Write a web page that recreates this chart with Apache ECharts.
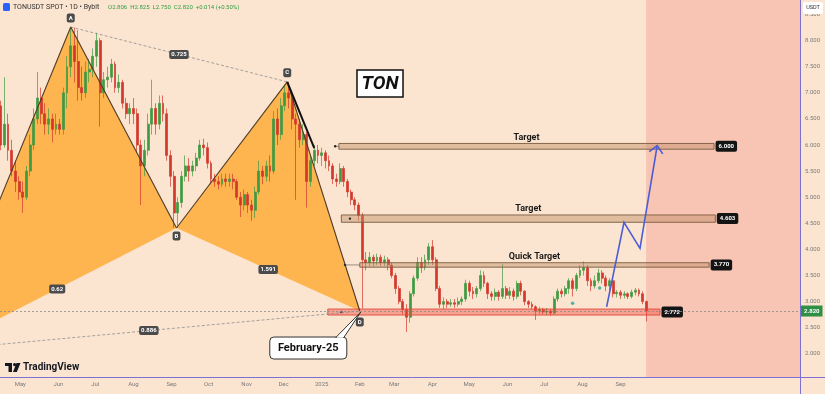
<!DOCTYPE html>
<html>
<head>
<meta charset="utf-8">
<script src="https://cdn.jsdelivr.net/npm/echarts@6.0.0/dist/echarts.min.js"></script>
<style>
html,body{margin:0;padding:0;background:#fce5d0;overflow:hidden}
#chart{width:825px;height:394px}
</style>
</head>
<body>
<div id="chart"></div>
<script>
// ---------------- data ----------------
const candleStart = '2024-04-15';
const candleStepDays = 3;
const opens = [
 6.75,6.0,6.4,5.9,5.5,5.3,5.1,5.0,5.5,6.0,
 6.5,6.9,6.6,6.4,6.5,6.3,6.4,6.3,7.0,7.5,
 7.9,7.6,7.1,7.0,7.4,7.45,7.7,8.0,7.0,7.25,
 7.3,7.55,7.1,7.2,6.8,6.6,6.7,6.6,6.0,5.6,
 5.9,6.4,6.7,6.4,6.8,6.6,5.8,5.4,4.7,4.9,
 5.4,5.6,5.5,5.6,5.75,6.0,5.95,5.65,5.35,5.3,
 5.25,5.35,5.3,5.35,5.3,5.0,4.85,5.05,4.85,4.75,
 5.1,5.5,5.4,5.6,5.5,6.5,6.2,6.75,7.0,6.9,
 6.5,6.4,6.1,6.2,5.3,5.7,5.9,5.8,5.85,5.7,
 5.6,5.35,5.3,5.55,5.3,5.1,4.95,4.85,4.65,3.8,
 3.75,3.85,3.78,3.85,3.75,3.8,3.7,3.5,3.25,3.0,
 2.85,2.7,3.15,3.45,3.75,3.65,3.8,4.05,3.8,3.25,
 2.95,3.0,2.95,2.98,2.95,3.0,3.05,3.35,3.2,3.15,
 3.25,3.5,3.35,3.15,3.1,3.18,3.1,3.25,3.12,3.2,
 3.1,3.35,3.2,3.0,2.95,2.9,2.82,2.85,2.8,2.82,
 2.78,3.05,3.2,3.15,3.25,3.4,3.25,3.5,3.6,3.65,
 3.4,3.3,3.4,3.55,3.45,3.3,3.4,3.15,3.18,3.12,
 3.15,3.1,3.18,3.22,3.15,3.0];
const closes = [
 6.0,6.4,5.9,5.5,5.3,5.1,5.0,5.5,6.0,6.5,
 6.9,6.6,6.4,6.5,6.3,6.4,6.3,7.0,7.5,7.9,
 7.6,7.1,7.0,7.4,7.45,7.7,8.0,7.0,7.25,7.3,
 7.55,7.1,7.2,6.8,6.6,6.7,6.6,6.0,5.6,5.9,
 6.4,6.7,6.4,6.8,6.6,5.8,5.4,4.7,4.9,5.4,
 5.6,5.5,5.6,5.75,6.0,5.95,5.65,5.35,5.3,5.25,
 5.35,5.3,5.35,5.3,5.0,4.85,5.05,4.85,4.75,5.1,
 5.5,5.4,5.6,5.5,6.5,6.2,6.75,7.0,6.9,6.5,
 6.4,6.1,6.2,5.3,5.7,5.9,5.8,5.85,5.7,5.6,
 5.35,5.3,5.55,5.3,5.1,4.95,4.85,4.65,3.8,3.75,
 3.85,3.78,3.85,3.75,3.8,3.7,3.5,3.25,3.0,2.85,
 2.7,3.15,3.45,3.75,3.65,3.8,4.05,3.8,3.25,2.95,
 3.0,2.95,2.98,2.95,3.0,3.05,3.35,3.2,3.15,3.25,
 3.5,3.35,3.15,3.1,3.18,3.1,3.25,3.12,3.2,3.1,
 3.35,3.2,3.0,2.95,2.9,2.82,2.85,2.8,2.82,2.78,
 3.05,3.2,3.15,3.25,3.4,3.25,3.5,3.6,3.65,3.4,
 3.3,3.4,3.55,3.45,3.3,3.4,3.15,3.18,3.12,3.15,
 3.1,3.18,3.22,3.15,3.0,2.82];
const lows = [
 5.9,5.95,5.7,5.4,5.1,4.95,4.7,4.95,5.4,5.9,
 6.4,6.4,6.2,6.2,6.05,6.2,6.2,6.2,6.7,7.3,
 7.2,6.85,6.85,6.9,7.2,7.3,7.5,6.35,6.9,7.1,
 7.2,7.0,7.0,6.7,6.5,6.4,6.4,5.85,4.85,5.4,
 5.8,6.2,6.2,6.3,6.45,5.7,5.2,4.41,4.45,4.8,
 5.3,5.3,5.4,5.5,5.7,5.8,5.55,5.25,5.2,5.15,
 5.2,5.2,5.2,5.15,4.95,4.62,4.75,4.7,4.55,4.6,
 5.05,5.25,5.3,5.3,5.45,6.0,6.1,6.65,6.7,6.3,
 4.95,5.95,6.0,4.8,5.2,5.6,5.65,5.6,5.55,5.5,
 5.25,5.2,5.25,5.2,5.0,4.85,4.75,4.55,2.87,3.6,
 3.68,3.68,3.7,3.68,3.68,3.6,3.45,3.15,2.95,2.75,
 2.42,2.6,3.1,3.4,3.55,3.6,3.7,3.7,3.2,2.88,
 2.85,2.88,2.9,2.88,2.9,2.93,3.0,3.1,3.05,3.08,
 3.2,3.28,3.05,3.02,3.02,3.02,3.05,3.05,3.05,3.02,
 3.05,3.12,2.93,2.88,2.85,2.65,2.76,2.75,2.74,2.73,
 2.75,3.0,3.08,3.1,3.15,3.1,3.2,3.45,3.5,3.3,
 3.2,3.25,3.35,3.35,3.2,3.22,3.08,3.08,3.05,3.06,
 3.05,3.06,3.12,3.1,2.95,2.62];
const highs = [
 6.85,7.3,6.6,6.1,5.7,5.4,5.3,5.6,6.2,6.7,
 7.4,7.1,6.8,6.7,6.6,6.6,6.5,7.1,7.7,8.26,
 8.25,8.2,7.5,7.6,7.65,7.85,8.15,8.05,7.4,7.5,
 7.65,7.6,7.35,7.25,6.9,6.8,6.9,6.7,6.1,6.1,
 6.6,7.25,6.8,6.95,6.95,6.7,5.9,5.5,5.0,5.5,
 5.8,5.75,5.7,5.85,6.1,6.12,6.05,5.7,5.45,5.4,
 5.45,5.45,5.45,5.45,5.35,5.1,5.15,5.1,4.95,5.2,
 5.7,5.6,5.7,5.8,6.65,6.7,6.9,7.15,7.21,7.05,
 6.6,6.5,6.4,6.25,5.8,6.0,6.0,5.95,5.9,5.8,
 5.65,5.45,5.65,5.6,5.35,5.15,5.0,4.9,4.7,3.95,
 3.95,3.9,3.92,3.9,3.88,3.85,3.75,3.55,3.3,3.05,
 2.95,3.2,3.5,3.85,3.85,3.9,4.12,4.18,3.85,3.3,
 3.08,3.05,3.05,3.05,3.08,3.1,3.42,3.4,3.28,3.3,
 3.6,3.58,3.38,3.2,3.25,3.22,3.72,3.3,3.28,3.25,
 3.4,3.4,3.22,3.03,3.0,2.93,2.9,2.88,2.88,2.86,
 3.1,3.25,3.25,3.3,3.45,3.45,3.55,3.7,3.77,3.7,
 3.45,3.5,3.63,3.6,3.5,3.45,3.42,3.22,3.22,3.2,
 3.18,3.23,3.26,3.25,3.2,3.02];

const monthTicks = ['2024-05-01','2024-06-01','2024-07-01','2024-08-01','2024-09-01','2024-10-01','2024-11-01','2024-12-01',
                    '2025-01-01','2025-02-01','2025-03-01','2025-04-01','2025-05-01','2025-06-01','2025-07-01','2025-08-01','2025-09-01'];
const monthLabels = ['May','Jun','Jul','Aug','Sep','Oct','Nov','Dec','2025','Feb','Mar','Apr','May','Jun','Jul','Aug','Sep'];
const priceTicks = [2.0,2.5,3.0,3.5,4.0,4.5,5.0,5.5,6.0,6.5,7.0,7.5,8.0,8.5];

// harmonic pattern X A B C D
const patternNames  = ['X','A','B','C','D'];
const patternDates  = ['2024-02-24','2024-06-11','2024-09-05','2024-12-04','2025-02-01'];
const patternValues = [2.07, 8.26, 4.41, 7.21, 2.82];
const ratioLabels   = ['0.62','0.725','1.591','0.886']; // XB, AC, BD, XD
const trendEndDate = '2024-12-26', trendEndValue = 5.94;
const calloutText = 'February-25';

// horizontal zones
const bandTitles  = ['Target','Target','Quick Target',''];
const bandStarts  = ['2025-01-15','2025-01-17','2025-02-01','2025-01-06'];
const bandEnds    = ['2025-11-16','2025-11-17','2025-11-12','2025-10-03'];
const bandTops    = [6.03, 4.66, 3.745, 2.858];
const bandBottoms = [5.92, 4.52, 3.66, 2.743];
const bandPrices  = ['6.000','4.603','3.770','2.772'];
const bandAnchorDates  = ['2025-01-12','2025-01-24','2025-01-20','2025-01-17'];

// projected path
const projDates  = ['2025-08-20T16:00:00','2025-09-03T19:00:00','2025-09-16T19:00:00','2025-09-30T19:00:00'];
const projValues = [2.90, 4.52, 4.02, 5.99];

const markerDates  = ['2025-07-24','2025-08-15'];
const markerValues = [2.97, 3.26];

const lastPrice = 2.82, lastPriceText = '2.820';
const viewStart = '2024-04-14T12:00:00', viewEnd = '2026-01-24T21:00:00';
const futureStart = '2025-09-21T18:00:00';
const priceMin = 1.556, priceMax = 8.778;

// ---------------- chart ----------------
const DAY = 864e5;
const T = s => Date.parse(s.length <= 10 ? s + 'T00:00:00Z' : s + 'Z');
const candleData = opens.map((o, i) => [T(candleStart) + i * candleStepDays * DAY, o, closes[i], lows[i], highs[i]]);
const tickTimes = monthTicks.map(T);
const FONT = 'Roboto, "Liberation Sans", sans-serif';
const UP = '#3f9a42', DOWN = '#d3382d';

function tag(x, y, text, bg, fg, font, pad) {
  return {type: 'text', x: x, y: y, z2: 20,
    style: {text: text, fill: fg, font: font, backgroundColor: bg, padding: pad, borderRadius: 2,
            align: 'center', verticalAlign: 'middle'}};
}
function seg(p, q, stroke, w, dash) {
  const st = {stroke: stroke, lineWidth: w};
  if (dash) st.lineDash = dash;
  return {type: 'line', shape: {x1: p[0], y1: p[1], x2: q[0], y2: q[1]}, style: st};
}

function renderFill(params, api) {
  const P = patternDates.map((d, i) => api.coord([T(d), patternValues[i]]));
  const fill = 'rgba(255,152,0,0.62)';
  return {type: 'group', children: [
    {type: 'polygon', shape: {points: [P[0], P[1], P[2]]}, style: {fill: fill}},
    {type: 'polygon', shape: {points: [P[2], P[3], P[4]]}, style: {fill: fill}}
  ]};
}

function renderPattern(params, api) {
  const P = patternDates.map((d, i) => api.coord([T(d), patternValues[i]]));
  const [X, A, B, C, D] = P;
  const ch = [];
  ch.push(seg(A, C, '#8d8d8d', 0.8, [3, 2]));
  ch.push(seg(X, D, '#8d8d8d', 0.8, [3, 2]));
  [[X, A], [A, B], [B, C], [C, D]].forEach(([p, q]) => ch.push(seg(p, q, '#4e3b28', 1.1)));
  ch.push(seg(C, api.coord([T(trendEndDate), trendEndValue]), '#111', 2));
  const pairs = [[0, 2], [1, 3], [2, 4], [0, 4]];
  pairs.forEach(([a, b], k) => {
    ch.push(tag((P[a][0] + P[b][0]) / 2, (P[a][1] + P[b][1]) / 2, ratioLabels[k], '#4b4b4b', '#fff', 'bold 6px ' + FONT, [2, 2, 1, 2]));
  });
  const offs = [0, -9, 8, -9, 11];
  for (let i = 1; i < 5; i++) ch.push(tag(P[i][0], P[i][1] + offs[i], patternNames[i], '#4b4b4b', '#fff', 'bold 6px ' + FONT, [2, 2, 1, 2]));
  // callout
  const bx = D[0] - 90, by = D[1] + 26;
  ch.push({type: 'rect', z2: 30, shape: {x: bx, y: by, width: 77, height: 22, r: 4}, style: {fill: '#fff', stroke: '#333', lineWidth: 1}});
  ch.push({type: 'polygon', z2: 31, shape: {points: [[bx + 66, by + 0.5], [bx + 74, by + 0.5], [D[0] + 1, D[1] + 1]]}, style: {fill: '#fff', stroke: '#333', lineWidth: 1}});
  ch.push({type: 'rect', z2: 32, shape: {x: bx + 66.8, y: by + 0.2, width: 6.6, height: 2}, style: {fill: '#fff'}});
  ch.push({type: 'text', z2: 33, x: bx + 38.5, y: by + 11.5, style: {text: calloutText, fill: '#111', font: 'bold 11px ' + FONT,
    align: 'center', verticalAlign: 'middle'}});
  // projection arrow
  const Q = projDates.map((d, i) => api.coord([T(d), projValues[i]]));
  ch.push({type: 'polyline', shape: {points: Q}, style: {stroke: '#4a5cd6', lineWidth: 1.6, fill: null}});
  const tip = Q[Q.length - 1], prev = Q[Q.length - 2];
  const ang = Math.atan2(prev[1] - tip[1], prev[0] - tip[0]);
  const arm = s => [tip[0] + 10 * Math.cos(ang + s), tip[1] + 10 * Math.sin(ang + s)];
  ch.push({type: 'polyline', shape: {points: [arm(0.75), tip, arm(-0.75)]}, style: {stroke: '#4a5cd6', lineWidth: 1.6, fill: null}});
  return {type: 'group', children: ch};
}

function renderBand(params, api) {
  const i = params.dataIndex;
  const p1 = api.coord([T(bandStarts[i]), bandTops[i]]);
  const p2 = api.coord([T(bandEnds[i]), bandBottoms[i]]);
  const mid = (p1[1] + p2[1]) / 2;
  const red = bandTitles[i] === '';
  const ch = [];
  ch.push({type: 'rect', shape: {x: p1[0], y: p1[1], width: p2[0] - p1[0], height: p2[1] - p1[1]},
           style: {fill: red ? 'rgba(240,70,55,0.42)' : 'rgba(190,140,100,0.45)', stroke: red ? '#e0483c' : '#7a5a40', lineWidth: 0.9}});
  const a = api.coord([T(bandAnchorDates[i]), (bandTops[i] + bandBottoms[i]) / 2]);
  if (a[0] < p1[0]) ch.push(seg([a[0], mid], [p1[0], mid], '#555', 0.6));
  ch.push({type: 'circle', shape: {cx: a[0], cy: mid, r: 1.2}, style: {fill: '#222'}});
  if (bandTitles[i]) {
    ch.push({type: 'text', x: (p1[0] + p2[0]) / 2, y: p1[1] - 1.5, style: {text: bandTitles[i], fill: '#1a1a1a', font: 'bold 9px ' + FONT,
      align: 'center', verticalAlign: 'bottom'}});
  }
  ch.push({type: 'text', x: p2[0] + 1.5, y: mid, z2: 5, style: {text: bandPrices[i], fill: '#fff', font: 'bold 6px ' + FONT,
    backgroundColor: '#141414', padding: [3, 3, 2, 3], borderRadius: 2, align: 'left', verticalAlign: 'middle'}});
  return {type: 'group', children: ch};
}

const chart = echarts.init(document.getElementById('chart'));
chart.setOption({
  animation: false,
  backgroundColor: '#fce5d0',
  grid: {left: 0, right: 25, top: 0, bottom: 17},
  xAxis: {
    type: 'value', min: T(viewStart), max: T(viewEnd),
    axisLine: {show: false}, axisTick: {show: false}, splitLine: {show: false},
    axisLabel: {
      customValues: tickTimes,
      formatter: v => { const k = tickTimes.indexOf(v); return k >= 0 ? monthLabels[k] : ''; },
      fontSize: 6, color: '#7a7a7a', margin: 4, fontFamily: FONT, hideOverlap: false
    }
  },
  yAxis: {
    type: 'value', position: 'right', min: priceMin, max: priceMax,
    axisLine: {show: false}, axisTick: {show: false}, splitLine: {show: false},
    axisLabel: {customValues: priceTicks, formatter: v => v.toFixed(3), fontSize: 6, color: '#7a7a7a', margin: 5, fontFamily: FONT}
  },
  series: [
    {type: 'line', data: [], z: 0,
     markArea: {silent: true, itemStyle: {color: '#f8c5b4'}, data: [[{xAxis: T(futureStart)}, {xAxis: T(viewEnd)}]]}},
    {type: 'custom', z: 1, renderItem: renderFill, data: [[T(patternDates[2]), patternValues[2]]], encode: {x: 0, y: 1}},
    {type: 'candlestick', z: 2, data: candleData, barWidth: 2.4,
     itemStyle: {color: UP, color0: DOWN, borderColor: UP, borderColor0: DOWN, borderWidth: 0.7},
     markLine: {silent: true, symbol: 'none', data: [{yAxis: lastPrice}],
       lineStyle: {type: [2, 2], color: '#8a8a8a', width: 0.8},
       label: {position: 'end', formatter: lastPriceText, backgroundColor: '#2e8f45', color: '#fff', fontSize: 6,
               padding: [3, 3, 2, 3], distance: 1, fontFamily: FONT, fontWeight: 'bold'}}},
    {type: 'scatter', z: 3, symbolSize: 3.5, itemStyle: {color: '#26a69a'},
     data: markerDates.map((d, i) => [T(d), markerValues[i]])},
    {type: 'custom', z: 4, renderItem: renderBand, data: bandTops.map((v, i) => [T(bandStarts[i]), v]), encode: {x: 0, y: 1}},
    {type: 'custom', z: 5, renderItem: renderPattern, data: [[T(patternDates[2]), patternValues[2]]], encode: {x: 0, y: 1}}
  ],
  graphic: {elements: [
    {type: 'line', z: 100, shape: {x1: 0, y1: 377.5, x2: 825, y2: 377.5}, style: {stroke: '#7b70d4', lineWidth: 1}},
    {type: 'line', z: 100, shape: {x1: 800.5, y1: 0, x2: 800.5, y2: 394}, style: {stroke: '#7b70d4', lineWidth: 1}},
    {type: 'rect', z: 100, shape: {x: 3, y: 3, width: 7, height: 8, r: 1.5}, style: {fill: '#2962ff'}},
    {type: 'text', z: 100, x: 13, y: 7.5, style: {text: 'TONUSDT SPOT • 1D • Bybit', fill: '#333', font: '7px ' + FONT,
      align: 'left', verticalAlign: 'middle'}},
    {type: 'text', z: 100, x: 108, y: 7.5, style: {text: 'O2.806  H2.825  L2.750  C2.820  +0.014 (+0.50%)', fill: '#2f9e44', font: '6px ' + FONT,
      align: 'left', verticalAlign: 'middle'}},
    {type: 'rect', z: 100, shape: {x: 803, y: 2, width: 20, height: 12, r: 2}, style: {fill: '#fff'}},
    {type: 'text', z: 101, x: 813, y: 8, style: {text: 'USDT', fill: '#333', font: '5.5px ' + FONT,
      align: 'center', verticalAlign: 'middle'}},
    {type: 'rect', z: 100, shape: {x: 357, y: 70, width: 46, height: 27}, style: {fill: '#fff', stroke: '#111', lineWidth: 1.5}},
    {type: 'text', z: 101, x: 380, y: 84, style: {text: 'TON', fill: '#111', font: 'italic bold 19px ' + FONT,
      align: 'center', verticalAlign: 'middle'}},
    {type: 'rect', z: 100, shape: {x: 5, y: 363, width: 7, height: 3}, style: {fill: '#131722'}},
    {type: 'rect', z: 100, shape: {x: 8.5, y: 363, width: 3.5, height: 9}, style: {fill: '#131722'}},
    {type: 'circle', z: 100, shape: {cx: 14.6, cy: 364.6, r: 1.6}, style: {fill: '#131722'}},
    {type: 'polygon', z: 100, shape: {points: [[16.5, 363], [20.5, 363], [16.8, 372], [13, 372]]}, style: {fill: '#131722'}},
    {type: 'text', z: 100, x: 23, y: 367.5, style: {text: 'TradingView', fill: '#131722', font: 'bold 10px ' + FONT,
      align: 'left', verticalAlign: 'middle'}}
  ]}
});
</script>
</body>
</html>
